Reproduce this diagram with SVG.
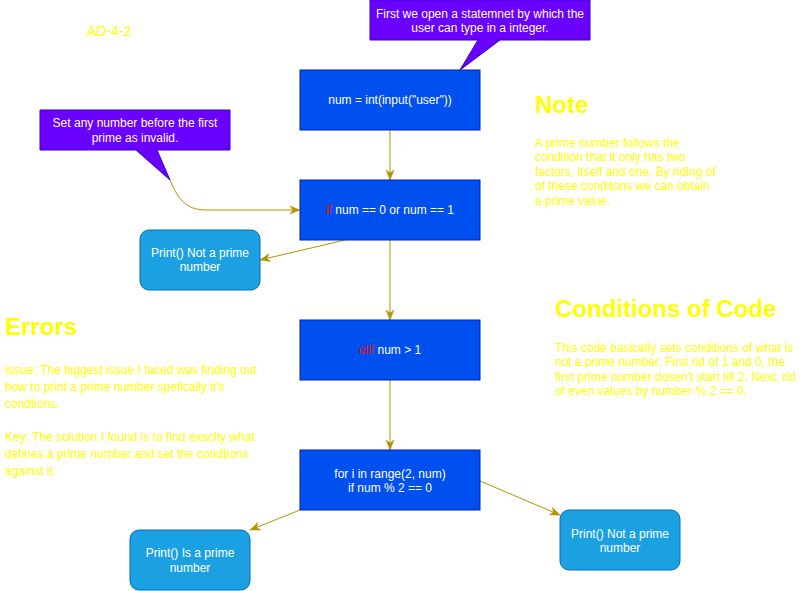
<svg xmlns="http://www.w3.org/2000/svg" width="801" height="591" viewBox="0 0 801 591">
<style>
text{font-family:"Liberation Sans",Arial,sans-serif;font-size:12px}
.w{fill:#FFFFFF;text-anchor:middle}
.y{fill:#FFFF00}
.h{font-size:24px;font-weight:bold}
.red{fill:#E51400}
.box{fill:#0050EF;stroke:#001DBC;stroke-width:1}
.rb{fill:#1BA1E2;stroke:#006EAF;stroke-width:1}
.call{fill:#6A00FF;stroke:#3700CC;stroke-width:1}
.e{fill:none;stroke:#B09500;stroke-width:1;marker-end:url(#arr)}
</style>
<defs>
<marker id="arr" markerUnits="userSpaceOnUse" markerWidth="10" markerHeight="10" viewBox="0 0 10 10" refX="10" refY="5" orient="auto">
<path d="M0,1 L10,5 L0,9 L3,5 Z" fill="#B09500" stroke="#B09500" stroke-width="0.5"/>
</marker>
</defs>
<rect width="801" height="591" fill="#FFFFFF"/>

<g id="connectors">
<path class="e" d="M390,130 L390,180"/>
<path class="e" d="M345,240 L260,260"/>
<path class="e" d="M390,240 L390,320"/>
<path class="e" d="M390,380 L390,450"/>
<path class="e" d="M300,510 L250,530"/>
<path class="e" d="M480,481 L560,515"/>
<path class="e" d="M170,180 C177,196 184,210 206,210 L300,210"/>
</g>

<g id="title"><text class="y" x="87" y="36" style="font-size:14px">AD-4-2</text></g>

<g id="callout1">
<path class="call" d="M370,0 L590,0 L590,40 L500,40 L460,70 L478,40 L370,40 Z"/>
<text class="w" x="480" y="17.5">First we open a statemnet by which the</text>
<text class="w" x="480" y="32">user can type in a integer.</text>
</g>

<g id="callout2">
<path class="call" d="M40,110 L230,110 L230,150 L157,150 L170,180 L136,150 L40,150 Z"/>
<text class="w" x="135" y="127">Set any number before the first</text>
<text class="w" x="135" y="141.5">prime as invalid.</text>
</g>

<g id="n1">
<rect class="box" x="300" y="70" width="180" height="60"/>
<text class="w" x="390" y="104">num = int(input("user"))</text>
</g>
<g id="n2">
<rect class="box" x="300" y="180" width="180" height="60"/>
<text class="w" x="390" y="214"><tspan class="red">if</tspan> num == 0 or num == 1</text>
</g>
<g id="n3">
<rect class="box" x="300" y="320" width="180" height="60"/>
<text class="w" x="390" y="354"><tspan class="red">elif</tspan> num &gt; 1</text>
</g>
<g id="n4">
<rect class="box" x="300" y="450" width="180" height="60"/>
<text class="w" x="390" y="477.5">for i in range(2, num)</text>
<text class="w" x="390" y="492">if num % 2 == 0</text>
</g>

<g id="p1">
<rect class="rb" x="140" y="230" width="120" height="60" rx="9"/>
<text class="w" x="200" y="256.5">Print() Not a prime</text>
<text class="w" x="200" y="271">number</text>
</g>
<g id="p2">
<rect class="rb" x="130" y="530" width="120" height="60" rx="9"/>
<text class="w" x="190" y="557">Print() Is a prime</text>
<text class="w" x="190" y="571.5">number</text>
</g>
<g id="p3">
<rect class="rb" x="560" y="510" width="120" height="60" rx="9"/>
<text class="w" x="620" y="537.5">Print() Not a prime</text>
<text class="w" x="620" y="552">number</text>
</g>

<g id="note">
<text class="y h" x="535" y="113">Note</text>
<text class="y" x="535" y="147">A prime number follows the</text>
<text class="y" x="535" y="161.4">condition that it only has two</text>
<text class="y" x="535" y="175.8">factors, itself and one. By riding of</text>
<text class="y" x="535" y="190.2">of these conditons we can obtain</text>
<text class="y" x="535" y="204.6">a prime value.</text>
</g>

<g id="conditions">
<text class="y h" x="555" y="317">Conditions of Code</text>
<text class="y" x="555" y="352">This code basically sets conditions of what is</text>
<text class="y" x="555" y="366.4">not a prime number. First rid of 1 and 0, the</text>
<text class="y" x="555" y="380.8">first prime number dosen't start till 2. Next, rid</text>
<text class="y" x="555" y="395.2">of even values by number % 2 == 0.</text>
</g>

<g id="errors">
<text class="y h" x="5" y="335">Errors</text>
<text class="y" x="5" y="374">Issue: The biggest issue I faced was finding out</text>
<text class="y" x="5" y="391">how to print a prime number spefically it's</text>
<text class="y" x="5" y="408">condtions.</text>
<text class="y" x="5" y="441">Key: The solution I found is to find exaclty what</text>
<text class="y" x="5" y="458">defines a prime number and set the condtions</text>
<text class="y" x="5" y="475">against it.</text>
</g>
</svg>
